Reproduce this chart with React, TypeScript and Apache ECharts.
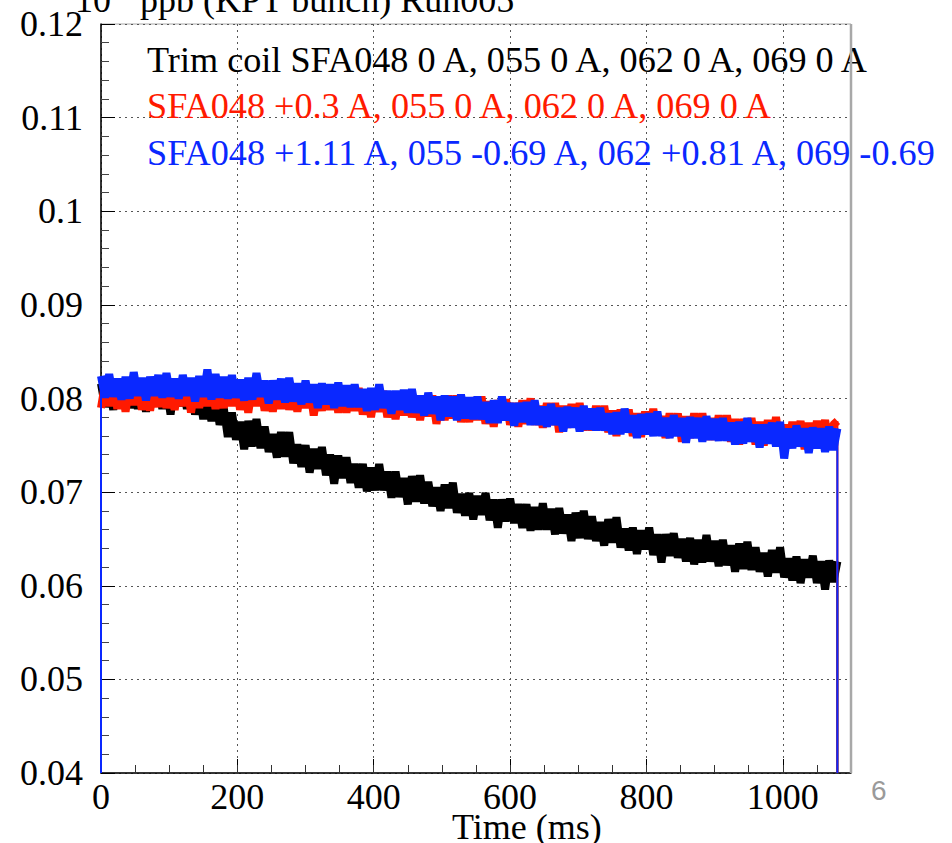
import React, { useEffect, useRef } from "react";
import * as echarts from "echarts";

// Histogram bin width (ms); bin i sits at i * TIME_BIN_MS
const TIME_BIN_MS = 6;
const BASELINE = 0.04;
const END_TIME_MS = 1080;

// Trim coil SFA048 0 A ... (black)
const blackValues = [
  0.0816, 0.0791, 0.0812, 0.0788, 0.0817, 0.0793, 0.0821, 0.0790, 0.0811, 0.0789,
  0.0813, 0.0786, 0.0812, 0.0793, 0.0817, 0.0789, 0.0812, 0.0783, 0.0814, 0.0792,
  0.0814, 0.0789, 0.0810, 0.0783, 0.0807, 0.0778, 0.0802, 0.0776, 0.0802, 0.0772,
  0.0790, 0.0759, 0.0785, 0.0756, 0.0775, 0.0746, 0.0776, 0.0749, 0.0778, 0.0747,
  0.0770, 0.0743, 0.0762, 0.0737, 0.0764, 0.0738, 0.0764, 0.0731, 0.0751, 0.0727,
  0.0750, 0.0721, 0.0746, 0.0725, 0.0748, 0.0718, 0.0740, 0.0709, 0.0739, 0.0715,
  0.0737, 0.0710, 0.0730, 0.0705, 0.0730, 0.0701, 0.0726, 0.0702, 0.0730, 0.0702,
  0.0722, 0.0694, 0.0722, 0.0695, 0.0715, 0.0687, 0.0717, 0.0690, 0.0718, 0.0688,
  0.0711, 0.0685, 0.0705, 0.0680, 0.0708, 0.0683, 0.0710, 0.0678, 0.0698, 0.0675,
  0.0699, 0.0671, 0.0696, 0.0676, 0.0699, 0.0670, 0.0692, 0.0662, 0.0692, 0.0669,
  0.0693, 0.0667, 0.0687, 0.0662, 0.0687, 0.0659, 0.0684, 0.0660, 0.0688, 0.0660,
  0.0682, 0.0655, 0.0683, 0.0656, 0.0676, 0.0648, 0.0678, 0.0651, 0.0680, 0.0650,
  0.0674, 0.0648, 0.0668, 0.0643, 0.0671, 0.0646, 0.0673, 0.0641, 0.0661, 0.0638,
  0.0662, 0.0634, 0.0659, 0.0639, 0.0662, 0.0633, 0.0655, 0.0625, 0.0655, 0.0632,
  0.0656, 0.0630, 0.0650, 0.0626, 0.0651, 0.0623, 0.0649, 0.0625, 0.0654, 0.0626,
  0.0648, 0.0621, 0.0649, 0.0622, 0.0643, 0.0615, 0.0645, 0.0618, 0.0647, 0.0617,
  0.0641, 0.0615, 0.0635, 0.0610, 0.0638, 0.0614, 0.0641, 0.0609, 0.0629, 0.0606,
  0.0631, 0.0603, 0.0628, 0.0609, 0.0632, 0.0603, 0.0626, 0.0596, 0.0627, 0.0604, 0.0626,
];

// SFA048 +0.3 A ... (red)
const redValues = [
  0.0790, 0.0816, 0.0792, 0.0817, 0.0789, 0.0813, 0.0786, 0.0814, 0.0793, 0.0815,
  0.0788, 0.0812, 0.0787, 0.0815, 0.0791, 0.0818, 0.0790, 0.0811, 0.0788, 0.0814,
  0.0792, 0.0815, 0.0785, 0.0813, 0.0790, 0.0816, 0.0792, 0.0817, 0.0789, 0.0812,
  0.0790, 0.0816, 0.0792, 0.0817, 0.0788, 0.0812, 0.0785, 0.0813, 0.0792, 0.0814,
  0.0787, 0.0811, 0.0786, 0.0813, 0.0789, 0.0816, 0.0788, 0.0809, 0.0786, 0.0812,
  0.0790, 0.0813, 0.0782, 0.0810, 0.0787, 0.0813, 0.0788, 0.0813, 0.0785, 0.0808,
  0.0785, 0.0811, 0.0787, 0.0811, 0.0783, 0.0807, 0.0780, 0.0807, 0.0786, 0.0808,
  0.0780, 0.0804, 0.0778, 0.0806, 0.0782, 0.0808, 0.0780, 0.0801, 0.0777, 0.0803,
  0.0781, 0.0803, 0.0773, 0.0801, 0.0777, 0.0803, 0.0779, 0.0803, 0.0775, 0.0798,
  0.0775, 0.0801, 0.0777, 0.0802, 0.0773, 0.0797, 0.0770, 0.0798, 0.0777, 0.0799,
  0.0772, 0.0795, 0.0770, 0.0798, 0.0773, 0.0800, 0.0772, 0.0792, 0.0769, 0.0795,
  0.0772, 0.0795, 0.0764, 0.0792, 0.0769, 0.0794, 0.0770, 0.0795, 0.0766, 0.0789,
  0.0766, 0.0792, 0.0767, 0.0792, 0.0764, 0.0787, 0.0760, 0.0788, 0.0766, 0.0788,
  0.0760, 0.0784, 0.0759, 0.0786, 0.0762, 0.0789, 0.0761, 0.0781, 0.0758, 0.0784,
  0.0761, 0.0784, 0.0754, 0.0781, 0.0758, 0.0784, 0.0760, 0.0784, 0.0756, 0.0779,
  0.0756, 0.0782, 0.0758, 0.0782, 0.0754, 0.0778, 0.0751, 0.0778, 0.0757, 0.0779,
  0.0751, 0.0775, 0.0750, 0.0777, 0.0753, 0.0780, 0.0752, 0.0772, 0.0749, 0.0775,
  0.0753, 0.0776, 0.0746, 0.0774, 0.0750, 0.0776, 0.0752, 0.0777, 0.0749, 0.0772, 0.0776,
];

// SFA048 +1.11 A ... (blue)
const blueValues = [
  0.0824, 0.0801, 0.0826, 0.0802, 0.0821, 0.0799, 0.0823, 0.0800, 0.0828, 0.0803,
  0.0822, 0.0798, 0.0823, 0.0803, 0.0825, 0.0801, 0.0827, 0.0802, 0.0821, 0.0800,
  0.0825, 0.0803, 0.0822, 0.0797, 0.0824, 0.0802, 0.0831, 0.0799, 0.0826, 0.0801,
  0.0823, 0.0800, 0.0825, 0.0801, 0.0820, 0.0798, 0.0822, 0.0799, 0.0827, 0.0802,
  0.0819, 0.0795, 0.0819, 0.0799, 0.0821, 0.0796, 0.0822, 0.0797, 0.0816, 0.0794,
  0.0819, 0.0796, 0.0815, 0.0790, 0.0816, 0.0794, 0.0815, 0.0790, 0.0817, 0.0792,
  0.0814, 0.0791, 0.0815, 0.0791, 0.0810, 0.0787, 0.0811, 0.0788, 0.0815, 0.0790,
  0.0808, 0.0784, 0.0808, 0.0788, 0.0809, 0.0785, 0.0810, 0.0785, 0.0803, 0.0782,
  0.0806, 0.0784, 0.0802, 0.0777, 0.0803, 0.0781, 0.0802, 0.0777, 0.0804, 0.0779,
  0.0801, 0.0778, 0.0802, 0.0778, 0.0796, 0.0774, 0.0798, 0.0774, 0.0802, 0.0777,
  0.0795, 0.0771, 0.0795, 0.0775, 0.0796, 0.0772, 0.0798, 0.0772, 0.0791, 0.0770,
  0.0794, 0.0772, 0.0790, 0.0765, 0.0791, 0.0769, 0.0790, 0.0765, 0.0792, 0.0767,
  0.0789, 0.0766, 0.0790, 0.0766, 0.0784, 0.0762, 0.0785, 0.0762, 0.0789, 0.0764,
  0.0782, 0.0758, 0.0783, 0.0762, 0.0784, 0.0760, 0.0786, 0.0760, 0.0779, 0.0758,
  0.0782, 0.0760, 0.0779, 0.0753, 0.0780, 0.0758, 0.0779, 0.0754, 0.0781, 0.0756,
  0.0778, 0.0755, 0.0779, 0.0755, 0.0774, 0.0751, 0.0775, 0.0752, 0.0779, 0.0754,
  0.0772, 0.0748, 0.0772, 0.0752, 0.0774, 0.0749, 0.0775, 0.0736, 0.0768, 0.0747,
  0.0771, 0.0749, 0.0768, 0.0742, 0.0769, 0.0747, 0.0768, 0.0743, 0.0770, 0.0745, 0.0768,
];

const seriesNames = ["SFA048 0 A", "SFA048 +0.3 A", "SFA048 +1.11 A"];
const seriesColors = ["#000000", "#ff1a00", "#0a28ff"];
const legendLabels = [
  "Trim coil SFA048 0 A, 055 0 A, 062 0 A, 069 0 A",
  "SFA048 +0.3 A, 055 0 A, 062 0 A, 069 0 A",
  "SFA048 +1.11 A, 055 -0.69 A, 062 +0.81 A, 069 -0.69 A",
];
const headerLeft = "10";
const headerRight = "ppb (KPT bunch) Run005";
const xAxisTitle = "Time (ms)";
const pageNumber = "6";

const SERIF = "'Liberation Serif', 'Times New Roman', serif";

function bins(values: number[]) {
  return values.map((v, i) => [i * TIME_BIN_MS, v]);
}
function edges(values: number[]) {
  // the histogram's rising edge at t = 0 and falling edge at the last bin
  return [
    [0, BASELINE],
    [0, values[0]],
    null,
    [END_TIME_MS, values[values.length - 1]],
    [END_TIME_MS, BASELINE],
  ];
}

export default function App() {
  const ref = useRef<HTMLDivElement>(null);
  useEffect(() => {
    if (!ref.current) return;
    const chart = echarts.init(ref.current, undefined, { renderer: "svg" });
    const allValues = [blackValues, redValues, blueValues];
    const series: any[] = [];
    allValues.forEach((vals, k) => {
      series.push({
        name: seriesNames[k],
        type: "line",
        xAxisIndex: 0,
        data: bins(vals),
        showSymbol: false,
        symbol: "none",
        lineStyle: { color: seriesColors[k], width: 8, join: "bevel" },
        z: 2 + k,
      });
      series.push({
        name: seriesNames[k] + " edges",
        type: "line",
        xAxisIndex: 0,
        data: edges(vals),
        connectNulls: false,
        showSymbol: false,
        symbol: "none",
        lineStyle: { color: seriesColors[k], width: 2 },
        z: 2 + k,
      });
    });
    chart.setOption({
      animation: false,
      backgroundColor: "#ffffff",
      grid: {
        left: 101,
        right: 101,
        top: 24,
        bottom: 70,
        show: true,
        borderColor: "#a8a8a8",
        borderWidth: 1,
      },
      xAxis: [
        {
          type: "value",
          position: "bottom",
          min: 0,
          max: 1100,
          interval: 200,
          axisLine: { show: true, onZero: false, lineStyle: { color: "#000", width: 1.5 } },
          axisTick: { show: true, inside: true, length: 14, lineStyle: { color: "#000" } },
          axisLabel: {
            show: true,
            showMaxLabel: false,
            margin: 6,
            color: "#000",
            fontFamily: SERIF,
            fontSize: 36,
            formatter: (v: number) => String(v),
          },
          splitLine: { show: true, lineStyle: { color: "#555", type: [2, 4], width: 1 } },
        },
        {
          type: "value",
          position: "bottom",
          min: 0,
          max: 1100,
          interval: 50,
          axisLine: { show: false },
          axisTick: { show: true, inside: true, length: 8, lineStyle: { color: "#333" } },
          axisLabel: { show: false },
          splitLine: { show: false },
        },
      ],
      yAxis: {
        type: "value",
        min: 0.04,
        max: 0.12,
        interval: 0.01,
        axisLine: { show: true, onZero: false, lineStyle: { color: "#000", width: 1.5 } },
        axisTick: { show: true, inside: true, length: 14, lineStyle: { color: "#000" } },
        minorTick: { show: true, splitNumber: 5, length: 8, lineStyle: { color: "#444" } },
        axisLabel: {
          margin: 18,
          color: "#000",
          fontFamily: SERIF,
          fontSize: 36,
        },
        splitLine: { show: true, lineStyle: { color: "#555", type: [2, 4], width: 1 } },
      },
      series,
      graphic: [
        {
          type: "text",
          left: 75,
          top: -18,
          style: { text: headerLeft, font: `36px ${SERIF}`, fill: "#000" },
        },
        {
          type: "text",
          left: 140,
          top: -18,
          style: { text: headerRight, font: `36px ${SERIF}`, fill: "#000" },
        },
        ...legendLabels.map((t, k) => ({
          type: "text",
          x: 147,
          y: 59.5 + k * 46.8,
          z: 10,
          style: {
            text: t,
            font: `36.2px ${SERIF}`,
            fill: seriesColors[k],
            verticalAlign: "middle",
          },
        })),
        {
          type: "rect",
          z: 20,
          shape: { x: 939, y: 128, width: 13, height: 52 },
          style: { fill: "#ffffff" },
        },
        {
          type: "line",
          z: 15,
          shape: { x1: 851, y1: 24, x2: 851, y2: 773 },
          style: { stroke: "#a8a8a8", lineWidth: 2.5 },
        },
        {
          type: "text",
          x: 452,
          y: 827,
          style: { text: xAxisTitle, font: `36px ${SERIF}`, fill: "#000", verticalAlign: "middle" },
        },
        {
          type: "text",
          x: 871,
          y: 790,
          style: {
            text: pageNumber,
            font: "28px 'Liberation Sans', Arial, sans-serif",
            fill: "#9a9a9a",
            verticalAlign: "middle",
          },
        },
      ],
    });
    return () => chart.dispose();
  }, []);
  return (
    <div
      ref={ref}
      style={{ position: "absolute", left: 0, top: 0, width: 952, height: 843 }}
    />
  );
}
